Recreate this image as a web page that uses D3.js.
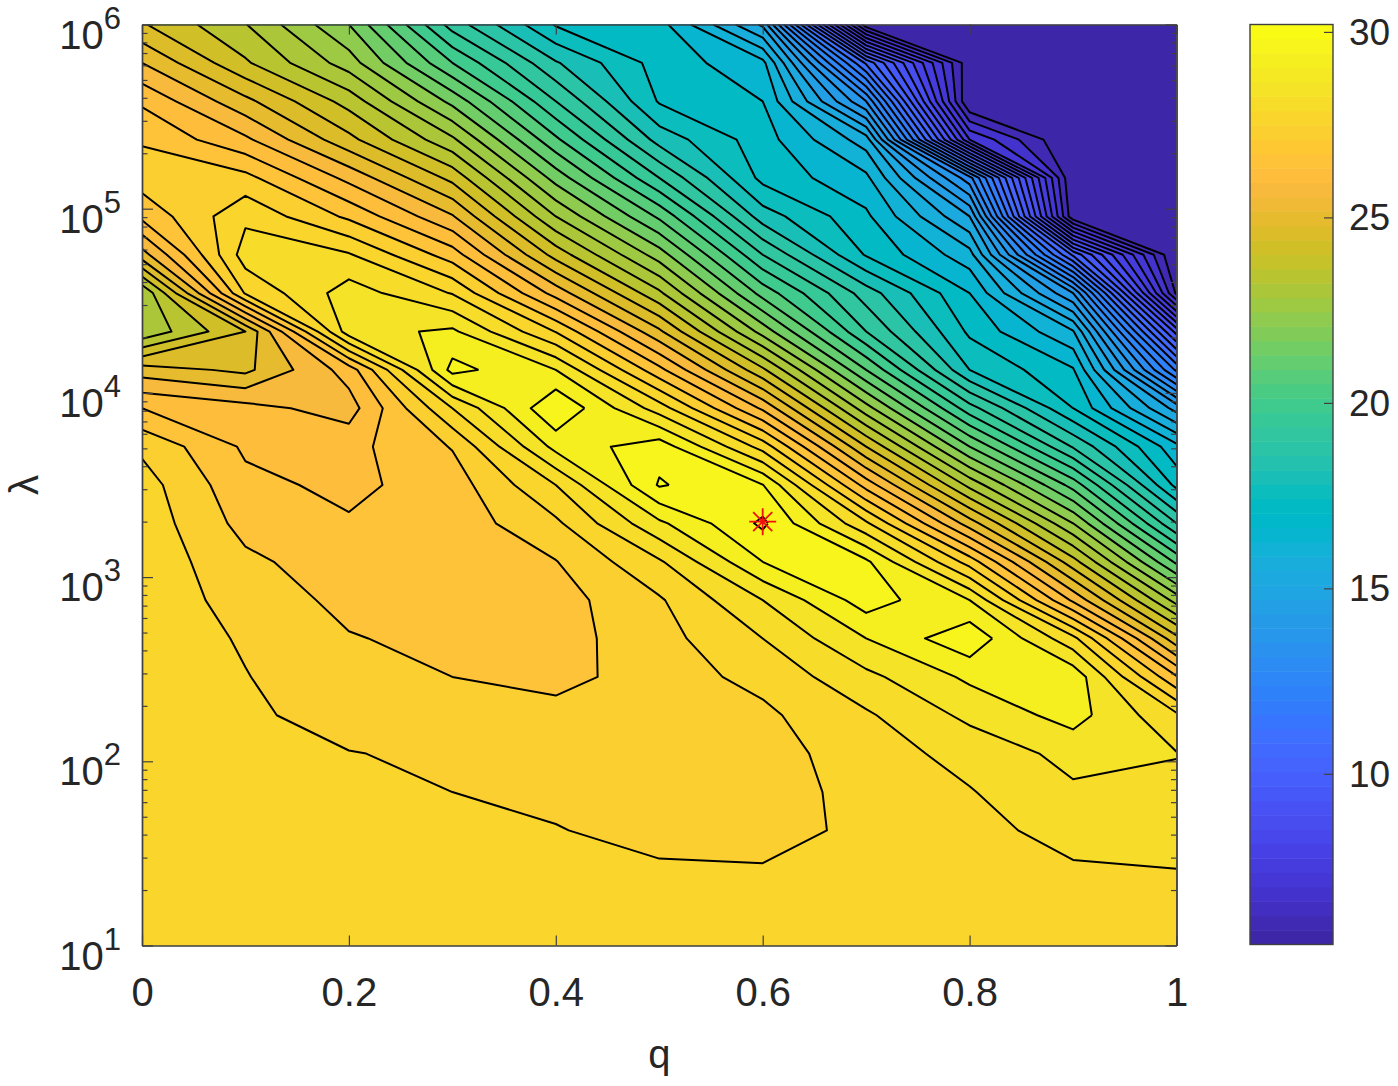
<!DOCTYPE html>
<html lang="en">
<head>
<meta charset="utf-8">
<script src="https://cdn.jsdelivr.net/npm/d3@7"></script>
<style>
    html, body { margin: 0; background: #fff; }
    svg { display: block; }
    text { font-family: "Liberation Sans", Arial, sans-serif; fill: #262626; }
</style>
</head>
<body>
<svg id="chart" width="1398" height="1086"></svg>
<script>
// grid positions
const qValues = [0, 0.1, 0.2, 0.3, 0.4, 0.5, 0.6, 0.7, 0.8, 0.9, 1];
const lambdaExp = [6, 5.792, 5.583, 5.375, 5.167, 4.958, 4.75, 4.542, 4.333, 4.125, 3.917, 3.708, 3.5,
    3.292, 3.083, 2.875, 2.667, 2.458, 2.25, 2.042, 1.833, 1.625, 1.417, 1.208, 1];

// values, one list per q, top (lambda = 1e6) to bottom (lambda = 10)
const z00 = [24.65, 25.6, 26.52, 27.05, 27.34, 26.73, 25.39, 23.12, 23.2, 25.35, 26.6, 27.5, 27.82, 27.91, 27.95, 27.95, 27.95, 27.95, 27.95, 27.95, 27.95, 27.95, 27.95, 27.95, 27.95];
const z01 = [23.62, 24.17, 25.24, 26.2, 27.26, 27.99, 28.35, 27.66, 24.6, 24.98, 26.28, 26.52, 26.73, 26.93, 27.21, 27.38, 27.54, 27.62, 27.7, 27.74, 27.78, 27.82, 27.86, 27.9, 27.95];
const z02 = [22.1, 22.85, 23.9, 24.75, 25.95, 27.0, 28.15, 28.85, 28.89, 26.32, 25.87, 26.44, 26.48, 26.65, 26.81, 26.97, 27.13, 27.25, 27.37, 27.62, 27.7, 27.78, 27.82, 27.9, 27.95];
const z03 = [19.38, 20.6, 21.95, 23.2, 24.45, 25.65, 26.85, 28.07, 29.2, 29.77, 28.1, 27.13, 26.85, 26.81, 26.85, 26.89, 26.97, 27.1, 27.25, 27.5, 27.6, 27.7, 27.79, 27.87, 27.95];
const z04 = [17.55, 18.65, 19.6, 20.7, 21.9, 23.1, 24.4, 25.9, 27.58, 29.1, 30.08, 29.26, 28.1, 27.5, 27.08, 26.89, 26.89, 26.91, 27.3, 27.36, 27.5, 27.62, 27.75, 27.87, 27.95];
const z05 = [17.3, 17.39, 17.55, 18.4, 19.6, 21.0, 22.35, 23.7, 25.2, 26.75, 28.35, 29.9, 30.15, 29.0, 28.03, 27.54, 27.42, 27.38, 27.34, 27.34, 27.38, 27.46, 27.65, 27.87, 27.95];
const z06 = [15.0, 16.75, 17.1, 17.33, 17.45, 18.35, 19.6, 20.9, 22.4, 24.2, 26.0, 27.9, 29.62, 30.2, 29.6, 28.6, 28.1, 27.74, 27.5, 27.38, 27.34, 27.42, 27.63, 27.82, 27.95];
const z07 = [5.74, 11.0, 13.6, 15.85, 16.72, 17.2, 17.55, 18.85, 19.6, 21.1, 22.8, 24.6, 26.4, 28.19, 29.7, 29.85, 29.1, 28.47, 28.03, 27.87, 27.79, 27.71, 27.75, 27.9, 27.99];
const z08 = [5.5, 5.7, 5.5, 7.6, 13.3, 15.1, 16.3, 17.1, 17.5, 18.1, 19.8, 21.6, 23.45, 25.35, 27.38, 29.1, 29.98, 29.2, 28.72, 28.27, 28.07, 27.95, 27.91, 27.95, 28.0];
const z09 = [5.5, 5.5, 5.5, 5.5, 5.5, 5.7, 10.5, 14.1, 16.15, 17.15, 17.6, 19.05, 20.9, 22.6, 24.3, 26.0, 28.25, 29.45, 29.3, 28.76, 28.52, 28.27, 28.05, 28.0, 28.0];
const z10 = [5.5, 5.5, 5.5, 5.5, 5.5, 5.5, 5.5, 6.0, 9.4, 12.0, 14.9, 16.75, 17.45, 19.1, 21.0, 22.9, 24.75, 26.65, 28.2, 28.62, 28.48, 28.31, 28.1, 28.03, 27.99];
const zColumns = [z00, z01, z02, z03, z04, z05, z06, z07, z08, z09, z10];

const bestQ = [0.6];
const bestLambda = [2000];

const xTicks = [0, 0.2, 0.4, 0.6, 0.8, 1];
const yTickExp = [1, 2, 3, 4, 5, 6];
const cbTicks = [10, 15, 20, 25, 30];
const zMin = 5.4, zMax = 30.2;

// contour levels, 0.5 apart going down from the one around the best point
const levels = d3.range(49).map(i => 30.1 - 0.5 * i);

const parula = [[0.2422,0.1504,0.6603],[0.2503,0.1650,0.7076],[0.2578,0.1818,0.7511],[0.2647,0.1978,0.7952],
    [0.2706,0.2147,0.8364],[0.2751,0.2342,0.8710],[0.2783,0.2559,0.8991],[0.2803,0.2782,0.9221],
    [0.2813,0.3006,0.9414],[0.2810,0.3228,0.9579],[0.2795,0.3447,0.9717],[0.2760,0.3667,0.9829],
    [0.2699,0.3892,0.9906],[0.2602,0.4123,0.9952],[0.2440,0.4358,0.9988],[0.2206,0.4603,0.9973],
    [0.1963,0.4847,0.9892],[0.1834,0.5074,0.9798],[0.1786,0.5289,0.9682],[0.1764,0.5499,0.9520],
    [0.1687,0.5703,0.9359],[0.1540,0.5902,0.9218],[0.1460,0.6091,0.9079],[0.1380,0.6276,0.8973],
    [0.1248,0.6459,0.8883],[0.1113,0.6635,0.8763],[0.0952,0.6798,0.8598],[0.0689,0.6948,0.8394],
    [0.0297,0.7082,0.8163],[0.0036,0.7203,0.7917],[0.0067,0.7312,0.7660],[0.0433,0.7411,0.7394],
    [0.0964,0.7500,0.7120],[0.1408,0.7584,0.6842],[0.1717,0.7670,0.6554],[0.1938,0.7758,0.6251],
    [0.2161,0.7843,0.5923],[0.2470,0.7918,0.5567],[0.2906,0.7973,0.5188],[0.3406,0.8008,0.4789],
    [0.3909,0.8029,0.4354],[0.4456,0.8024,0.3909],[0.5044,0.7993,0.3480],[0.5616,0.7942,0.3045],
    [0.6174,0.7876,0.2612],[0.6720,0.7793,0.2227],[0.7242,0.7698,0.1910],[0.7738,0.7598,0.1646],
    [0.8203,0.7498,0.1535],[0.8634,0.7406,0.1596],[0.9035,0.7330,0.1774],[0.9393,0.7288,0.2100],
    [0.9728,0.7298,0.2394],[0.9956,0.7434,0.2371],[0.9970,0.7659,0.2199],[0.9952,0.7861,0.1990],
    [0.9892,0.8136,0.1885],[0.9786,0.8394,0.1766],[0.9676,0.8639,0.1643],[0.9610,0.8890,0.1537],
    [0.9597,0.9135,0.1423],[0.9628,0.9373,0.1265],[0.9691,0.9606,0.1064],[0.9769,0.9839,0.0805]]
    .map(c => d3.rgb(c[0] * 255, c[1] * 255, c[2] * 255).formatHex());

const plot = {left: 142, right: 1176.5, top: 24.5, bottom: 945.5};
const bar = {left: 1250, right: 1333, top: 24.5, bottom: 944.5};
const fontSize = 40;

const svg = d3.select('#chart');
const x = d3.scaleLinear().domain([0, 1]).range([plot.left, plot.right]);
const y = d3.scaleLog().domain([10, 1e6]).range([plot.bottom, plot.top]);
const cb = d3.scaleLinear().domain([zMin, zMax]).range([bar.bottom, bar.top]);
// each band takes the flat colormap colour of its lower level
const color = d3.scaleQuantize().domain([zMin, zMax]).range(parula);

const nx = qValues.length, ny = lambdaExp.length;
const grid = [];
for (let k = 0; k < ny; k++) for (let j = 0; j < nx; j++) grid.push(zColumns[j][k]);

const qAt = d3.scaleLinear().domain(d3.range(nx)).range(qValues);
const expAt = d3.scaleLinear().domain(d3.range(ny)).range(lambdaExp);
// d3.contours puts cell i at i + 0.5 and closes rings half a cell outside the grid
const gx = v => Math.max(0, Math.min(nx - 1, v - 0.5));
const gy = v => Math.max(0, Math.min(ny - 1, v - 0.5));
const px = p => x(qAt(gx(p[0])));
const py = p => y(Math.pow(10, expAt(gy(p[1]))));

const contours = d3.contours().size([nx, ny]).smooth(true).thresholds(levels)(grid);

const fillPath = geom => {
    const path = d3.path();
    geom.coordinates.forEach(poly => poly.forEach(ring => {
        ring.forEach((p, i) => i ? path.lineTo(px(p), py(p)) : path.moveTo(px(p), py(p)));
        path.closePath();
    }));
    return path.toString();
};
// same rings, but without the stretches that run along the frame
const linePath = geom => {
    const path = d3.path();
    const onFrame = (a, b) =>
        (gx(a[0]) === gx(b[0]) && (gx(a[0]) === 0 || gx(a[0]) === nx - 1)) ||
        (gy(a[1]) === gy(b[1]) && (gy(a[1]) === 0 || gy(a[1]) === ny - 1));
    geom.coordinates.forEach(poly => poly.forEach(ring => {
        ring.forEach((p, i) => {
            if (i === 0 || onFrame(ring[i - 1], p)) path.moveTo(px(p), py(p));
            else path.lineTo(px(p), py(p));
        });
    }));
    return path.toString();
};

svg.append('defs').append('clipPath').attr('id', 'plot-clip').append('rect')
    .attr('x', plot.left).attr('y', plot.top)
    .attr('width', plot.right - plot.left).attr('height', plot.bottom - plot.top);

const field = svg.append('g').attr('clip-path', 'url(#plot-clip)');
field.append('rect')
    .attr('x', plot.left).attr('y', plot.top)
    .attr('width', plot.right - plot.left).attr('height', plot.bottom - plot.top)
    .attr('fill', parula[0]);

field.append('g').selectAll('path')
    .data(contours)
    .join('path')
    .attr('d', fillPath)
    .attr('fill', d => color(d.value))
    .attr('fill-rule', 'evenodd');

field.append('g').selectAll('path')
    .data(contours)
    .join('path')
    .attr('d', linePath)
    .attr('fill', 'none')
    .attr('stroke', '#000')
    .attr('stroke-width', 2)
    .attr('stroke-linejoin', 'round');

// best point: * marker
const star = d3.path();
d3.range(4).forEach(i => {
    const a = i * Math.PI / 4, r = 13.5;
    star.moveTo(r * Math.cos(a), r * Math.sin(a));
    star.lineTo(-r * Math.cos(a), -r * Math.sin(a));
});
svg.append('g').selectAll('path').data(bestQ).join('path')
    .attr('transform', (d, i) => `translate(${x(d)},${y(bestLambda[i])})`)
    .attr('d', star.toString())
    .attr('fill', 'none').attr('stroke', '#f01010').attr('stroke-width', 1.8);

// axes, MATLAB style: inward ticks on all four sides
const frameColor = '#404040';
const styleAxis = g => {
    g.select('.domain').attr('stroke', frameColor).attr('stroke-width', 1.4);
    g.selectAll('.tick line').attr('stroke', frameColor).attr('stroke-width', 1.2);
};
const xAxis = d3.axisBottom(x).tickValues(xTicks).tickSize(-10).tickSizeOuter(0).tickFormat(d3.format('~g'));
svg.append('g').attr('transform', `translate(0,${plot.bottom})`).call(xAxis).call(styleAxis)
    .call(g => g.selectAll('text').attr('y', 60).attr('dy', 0).attr('font-size', fontSize));
svg.append('g').attr('transform', `translate(0,${plot.top})`)
    .call(d3.axisTop(x).tickValues(xTicks).tickSize(-10).tickSizeOuter(0).tickFormat('')).call(styleAxis);

const yMajor = yTickExp.map(e => Math.pow(10, e));
const yMinor = [];
yTickExp.slice(0, -1).forEach(e => d3.range(2, 10).forEach(m => yMinor.push(m * Math.pow(10, e))));
const leftAxis = d3.axisLeft(y).tickValues(yMajor).tickSize(-11).tickSizeOuter(0).tickFormat('');
const rightAxis = d3.axisRight(y).tickValues(yMajor).tickSize(-11).tickSizeOuter(0).tickFormat('');
svg.append('g').attr('transform', `translate(${plot.left},0)`).call(leftAxis).call(styleAxis);
svg.append('g').attr('transform', `translate(${plot.right},0)`).call(rightAxis).call(styleAxis);
svg.append('g').attr('transform', `translate(${plot.left},0)`)
    .call(d3.axisLeft(y).tickValues(yMinor).tickSize(-5.5).tickSizeOuter(0).tickFormat('')).call(styleAxis);
svg.append('g').attr('transform', `translate(${plot.right},0)`)
    .call(d3.axisRight(y).tickValues(yMinor).tickSize(-5.5).tickSizeOuter(0).tickFormat('')).call(styleAxis);

// 10^n labels
svg.append('g').selectAll('text').data(yTickExp).join('text')
    .attr('x', 121).attr('y', e => y(Math.pow(10, e)) + 24)
    .attr('text-anchor', 'end').attr('font-size', fontSize)
    .call(t => t.append('tspan').text('10'))
    .call(t => t.append('tspan').attr('dy', -20).attr('font-size', 31).text(e => e));

svg.append('text').attr('x', x(0.5)).attr('y', 1068).attr('text-anchor', 'middle')
    .attr('font-size', fontSize).text('q');
svg.append('text').attr('transform', 'translate(38,485) rotate(-90)').attr('text-anchor', 'middle')
    .attr('font-size', fontSize).text('λ');

// colorbar
const bandH = (bar.bottom - bar.top) / parula.length;
svg.append('g').selectAll('rect').data(parula).join('rect')
    .attr('x', bar.left)
    .attr('y', (d, i) => bar.bottom - (i + 1) * bandH)
    .attr('width', bar.right - bar.left)
    .attr('height', bandH + 0.5)
    .attr('fill', d => d);
svg.append('rect')
    .attr('x', bar.left).attr('y', bar.top)
    .attr('width', bar.right - bar.left).attr('height', bar.bottom - bar.top)
    .attr('fill', 'none').attr('stroke', frameColor).attr('stroke-width', 1.4);
svg.append('g').attr('transform', `translate(${bar.right},0)`)
    .call(d3.axisRight(cb).tickValues(cbTicks).tickSize(-9).tickSizeOuter(0).tickFormat(''))
    .call(styleAxis)
    .call(g => g.select('.domain').remove());
svg.append('g').selectAll('text').data(cbTicks).join('text')
    .attr('x', 1349).attr('y', d => cb(d) + 13)
    .attr('font-size', 37).text(d => d);
</script>
</body>
</html>
